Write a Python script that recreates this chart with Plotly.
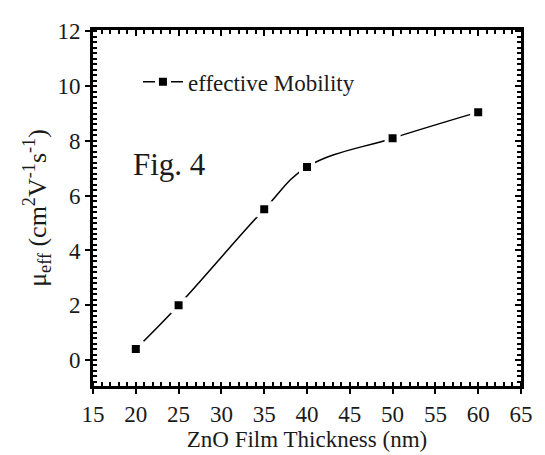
import plotly.graph_objects as go

thickness = [20, 25, 35, 40, 50, 60]
mobility = [0.4, 2.0, 5.5, 7.05, 8.1, 9.05]
series_name = "effective Mobility"
x_ticks = [15, 20, 25, 30, 35, 40, 45, 50, 55, 60, 65]
y_ticks = [0, 2, 4, 6, 8, 10, 12]

FONT = "Liberation Serif, Times New Roman, serif"
XR = [15, 65]
YR = [-0.95, 12.05]
TXT = "#1a1a1a"

fig = go.Figure()
fig.add_trace(go.Scatter(
    x=thickness, y=mobility, name=series_name,
    mode="lines+markers",
    line=dict(color="black", width=1.5, shape="spline", smoothing=1.1),
    marker=dict(symbol="square", size=12, color="black",
                line=dict(color="white", width=4)),
))
# invisible trace to instantiate the mirrored top/right axes
fig.add_trace(go.Scatter(
    x=thickness, y=mobility, xaxis="x2", yaxis="y2",
    mode="markers", marker=dict(opacity=0), showlegend=False, hoverinfo="skip",
))

tick_font = dict(family=FONT, size=23, color=TXT)

fig.update_layout(
    width=545, height=455,
    margin=dict(l=93, r=12, t=30, b=61),
    paper_bgcolor="white", plot_bgcolor="white",
    font=dict(family=FONT, color=TXT, size=22),
    showlegend=True,
    legend=dict(x=0.105, y=0.915, xanchor="left", yanchor="top",
                bgcolor="rgba(0,0,0,0)", font=dict(family=FONT, size=23, color=TXT),
                itemwidth=40),
    xaxis=dict(range=XR, tickvals=x_ticks, ticks="outside", ticklen=5,
               mirror=True, showline=True, showgrid=False, zeroline=False,
               linecolor="black", linewidth=3, tickcolor="black", tickwidth=2,
               tickfont=tick_font,
               minor=dict(dtick=1, ticks="inside", ticklen=4, tickwidth=2, tickcolor="black"),
               title=dict(text="ZnO Film Thickness (nm)", standoff=0,
                          font=dict(family=FONT, size=23, color=TXT))),
    yaxis=dict(range=YR, tickvals=y_ticks, ticks="outside", ticklen=5,
               mirror=True, showline=True, showgrid=False, zeroline=False,
               linecolor="black", linewidth=3, tickcolor="black", tickwidth=2,
               tickfont=tick_font,
               minor=dict(dtick=0.2, ticks="inside", ticklen=4, tickwidth=2, tickcolor="black"),
               title=dict(text="μ<sub>eff</sub> (cm<sup>2</sup>V<sup>-1</sup>s<sup>-1</sup>)",
                          standoff=4, font=dict(family=FONT, size=26, color=TXT))),
    xaxis2=dict(range=XR, overlaying="x", side="top", anchor="y2",
                tickvals=x_ticks, ticks="inside", ticklen=6, showticklabels=False,
                showline=False, showgrid=False, zeroline=False,
                tickcolor="black", tickwidth=2,
                minor=dict(dtick=1, ticks="inside", ticklen=4, tickwidth=2, tickcolor="black")),
    yaxis2=dict(range=YR, overlaying="y", side="right", anchor="x2",
                tickvals=y_ticks, ticks="inside", ticklen=6, showticklabels=False,
                showline=False, showgrid=False, zeroline=False,
                tickcolor="black", tickwidth=2,
                minor=dict(dtick=0.2, ticks="inside", ticklen=4, tickwidth=2, tickcolor="black")),
    annotations=[dict(text="Fig. 4", x=0.088, y=0.622, xref="paper", yref="paper",
                      xanchor="left", yanchor="middle", showarrow=False,
                      font=dict(family=FONT, size=31, color=TXT))],
)

fig.write_html("out.html")
